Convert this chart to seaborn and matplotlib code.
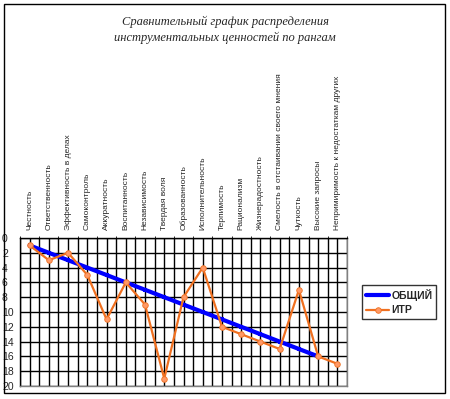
import matplotlib
matplotlib.use("Agg")
import matplotlib.pyplot as plt
import numpy as np
import pandas as pd
import seaborn as sns
from matplotlib.patches import Rectangle

CATEGORIES = [
    "Честность", "Ответственность", "Эффективность в делах", "Самоконтроль",
    "Аккуратность", "Воспитанность", "Независимость", "Твердая воля",
    "Образованность", "Исполнительность", "Терпимость", "Рационализм",
    "Жизнерадостность", "Смелость в отстаивании своего мнения", "Чуткость",
    "Высокие запросы", "Непримиримость к недостаткам других",
]
OBSHIY = [1, 2, 3, 4, 5, 6, 7, 8, 9, 10, 11, 12, 13, 14, 15, 16, np.nan]
ITR = [1, 3, 2, 5, 11, 6, 9, 19, 8, 4, 12, 13, 14, 15, 7, 16, 17]
Y_TICKS = [0, 2, 4, 6, 8, 10, 12, 14, 16, 18, 20]
TITLE = "Сравнительный график распределения\nинструментальных ценностей по рангам"

sns.set_style("white")
plt.rcParams["font.family"] = ["Liberation Sans", "DejaVu Sans"]

df = pd.DataFrame({"pos": range(len(CATEGORIES)), "ОБЩИЙ": OBSHIY, "ИТР": ITR})

fig = plt.figure(figsize=(4.5, 3.99), dpi=100)
ax = fig.add_axes([20 / 450, 1 - 386 / 399, 327 / 450, 148 / 399])

sns.lineplot(data=df, x="pos", y="ОБЩИЙ", ax=ax, color="#0000ff", lw=3,
             marker="s", markersize=3.5, markeredgewidth=0, label="ОБЩИЙ")
sns.lineplot(data=df, x="pos", y="ИТР", ax=ax, color="#f07020", lw=1.6,
             marker="o", markersize=4, markerfacecolor="#ff9966",
             markeredgecolor="#f07020", markeredgewidth=0.6, label="ИТР")

n = len(CATEGORIES)
ax.set_xlim(-0.5, n - 0.5)
ax.set_ylim(20, 0)
ax.set_yticks(Y_TICKS)
ax.set_xticks(range(n))
ax.set_xticks(np.arange(-0.5, n, 1.0), minor=True)
ax.xaxis.tick_top()
ax.set_xticklabels(CATEGORIES, rotation=90, fontsize=6.0)
ax.tick_params(axis="x", which="major", length=0, pad=6)
ax.tick_params(axis="x", which="minor", length=3, direction="inout", color="black", top=True, bottom=False)
ax.tick_params(axis="y", length=3, direction="out", labelsize=7.5, pad=10, color="black")
plt.setp(ax.get_yticklabels(), ha="left")
ax.grid(True, which="both", axis="x", color="black", lw=1)
ax.grid(True, which="major", axis="y", color="black", lw=1)
ax.set_axisbelow(True)
ax.set_xlabel("")
ax.set_ylabel("")
ax.spines["left"].set_color("black")
ax.spines["top"].set_color("black")
ax.spines["right"].set_color("#808080")
ax.spines["bottom"].set_color("#808080")
for s in ax.spines.values():
    s.set_linewidth(1)

leg = ax.legend(loc="center left", bbox_to_anchor=(362 / 450, 1 - 302 / 399),
                bbox_transform=fig.transFigure, frameon=True, fancybox=False,
                prop={"weight": "bold", "size": 7.5}, handlelength=2.2,
                handletextpad=0.2, borderpad=0.4, labelspacing=0.45,
                borderaxespad=0)
leg.get_frame().set_edgecolor("black")
leg.get_frame().set_linewidth(1)

fig.text(225 / 450, 1 - 30 / 399, TITLE, ha="center", va="center",
         family="Liberation Serif", style="italic", fontsize=9, linespacing=1.4)

fig.patches.append(Rectangle((4 / 450, 1 - 393 / 399), 441 / 450, 389 / 399,
                             transform=fig.transFigure, fill=False,
                             edgecolor="black", lw=1))

fig.savefig("out.png", dpi=100)
